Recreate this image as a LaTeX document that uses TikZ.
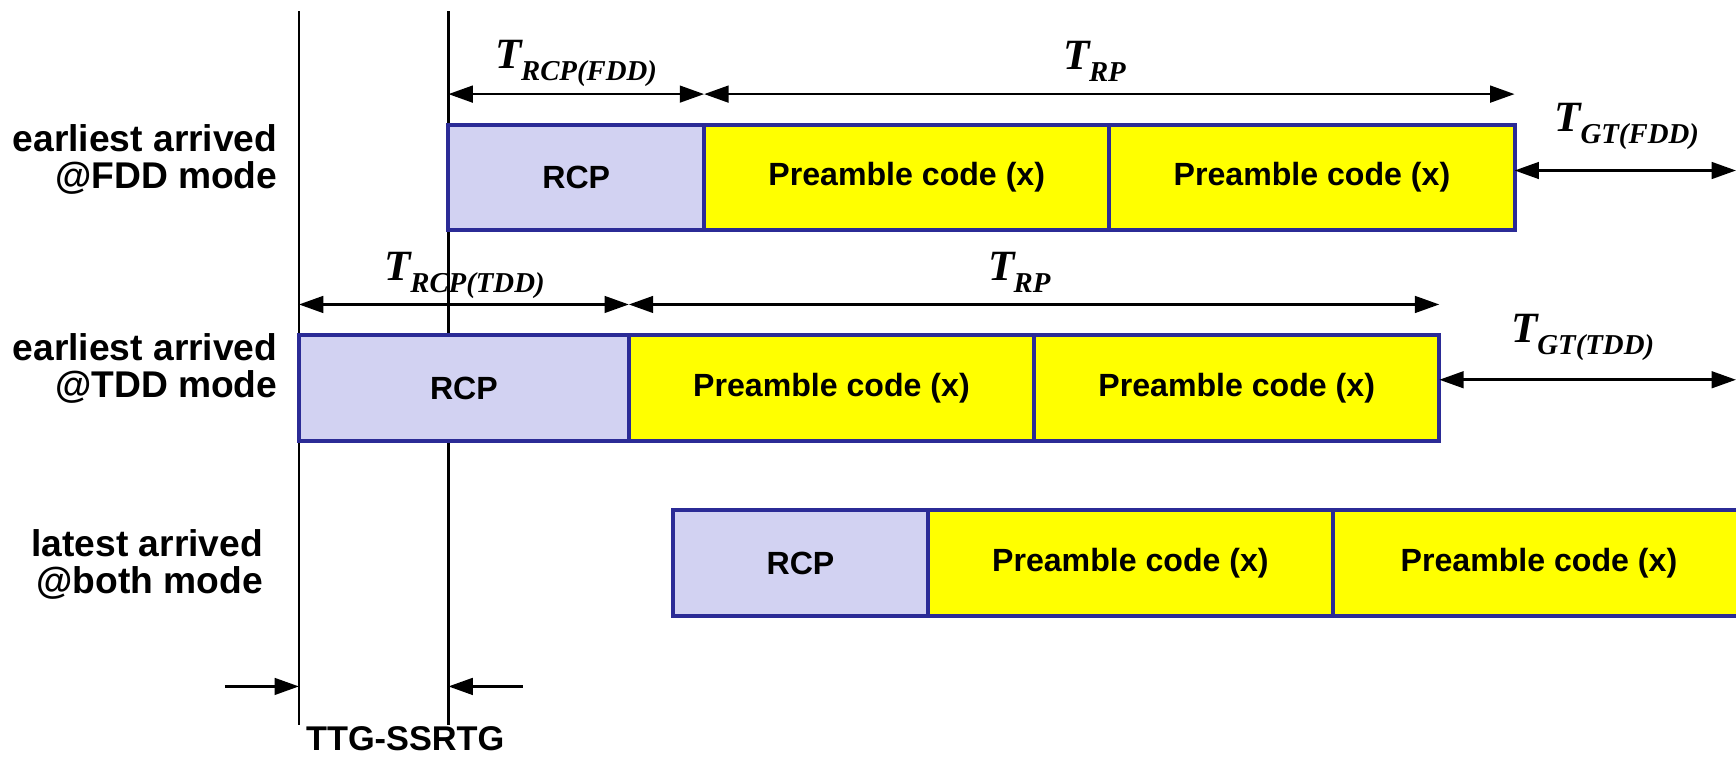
\documentclass[tikz,border=0pt]{standalone}
\usepackage{fontspec}
\usetikzlibrary{arrows.meta}
\newfontfamily\labfont{Liberation Sans}
\newfontfamily\symfont{Liberation Serif}
\definecolor{rcpfill}{RGB}{210,210,242}
\definecolor{boxedge}{RGB}{43,43,150}
\definecolor{pyellow}{RGB}{255,255,0}
\newcommand{\Tsym}[1]{{\symfont\bfseries\itshape\fontsize{19.5}{19.5}\selectfont T}\kern-0.3pt\raisebox{-5.5pt}{\symfont\bfseries\itshape\fontsize{13}{13}\selectfont #1}}
\tikzset{
  seg/.style={draw=boxedge, line width=1.8pt, minimum height=47.5pt, inner sep=0pt, outer sep=0pt,
    anchor=north west, font=\labfont\bfseries\fontsize{14.5}{14.5}\selectfont},
  rcpbox/.style={seg, fill=rcpfill},
  prebox/.style={seg, fill=pyellow, minimum width=183pt},
  dim/.style={line width=1.2pt, {Triangle[length=11pt,width=7.5pt]}-{Triangle[length=11pt,width=7.5pt]}},
  onearrow/.style={line width=1.2pt, -{Triangle[length=11pt,width=7.5pt]}},
  guide/.style={line width=1pt},
  sidelab/.style={anchor=east, align=right, inner sep=0pt,
    font=\labfont\bfseries\fontsize{16.8}{16.5}\selectfont},
  symlab/.style={inner sep=0pt, anchor=base west},
}
\begin{document}
\begin{tikzpicture}[x=0.5pt, y=-0.5pt]
\useasboundingbox (0,0) rectangle (1568,685);
\clip (0,0) rectangle (1568,685);

% guide lines
\coordinate (L1t) at (270,10);
\coordinate (L1b) at (270,655);
\coordinate (L2t) at (405,10);
\coordinate (L2b) at (405,655);
\draw[guide] (L1t) -- (L1b);
\draw[guide] (L2t) -- (L2b);

% row 1 (FDD)
\node[rcpbox, minimum width=115.5pt] (r1a) at (405,113) {RCP};
\node[prebox] (r1b) at (r1a.north east) {Preamble code (x)};
\node[prebox] (r1c) at (r1b.north east) {Preamble code (x)};

% row 2 (TDD)
\node[rcpbox, minimum width=149pt] (r2a) at (270,303) {RCP};
\node[prebox] (r2b) at (r2a.north east) {Preamble code (x)};
\node[prebox] (r2c) at (r2b.north east) {Preamble code (x)};

% row 3 (both)
\node[rcpbox, minimum width=115pt] (r3a) at (608,461) {RCP};
\node[prebox] (r3b) at (r3a.north east) {Preamble code (x)};
\node[prebox, minimum width=186pt] (r3c) at (r3b.north east) {Preamble code (x)};

% side labels
\node[sidelab] (s1) at (251,144) {earliest arrived\\@FDD mode};
\node[sidelab] (s2) at (251,333) {earliest arrived\\@TDD mode};
\node[sidelab] (s3) at (238,510) {latest arrived\\@both mode};

% dimension arrows
\coordinate (d1) at (0,85);
\coordinate (d2) at (0,275);
\coordinate (edge) at (1568,0);
\coordinate (g1) at (0,154);
\coordinate (g2) at (0,343);
\draw[dim] (r1a.north west |- d1) -- (r1a.north east |- d1);
\draw[dim] (r1b.north west |- d1) -- (r1c.north east |- d1);
\draw[dim] (r2a.north west |- d2) -- (r2a.north east |- d2);
\draw[dim] (r2b.north west |- d2) -- (r2c.north east |- d2);
\draw[dim] (r1c.east |- g1) -- (edge |- g1);
\draw[dim] (r2c.east |- g2) -- (edge |- g2);

% symbol labels
\node[symlab] (t1) at (447,62) {\Tsym{RCP(FDD)}};
\node[symlab] (t2) at (960,63) {\Tsym{RP}};
\node[symlab] (t3) at (1404,119) {\Tsym{GT(FDD)}};
\node[symlab] (t4) at (347,253) {\Tsym{RCP(TDD)}};
\node[symlab] (t5) at (892,253) {\Tsym{RP}};
\node[symlab] (t6) at (1365,309) {\Tsym{GT(TDD)}};

% TTG-SSRTG
\coordinate (a1) at (203,620);
\coordinate (a2) at (472,620);
\draw[onearrow] (a1) -- (a1 -| L1b);
\draw[onearrow] (a2) -- (a2 -| L2b);
\node[anchor=north, inner sep=0pt, font=\labfont\bfseries\fontsize{15.5}{15.5}\selectfont] (ttg) at (366,656) {TTG-SSRTG};
\end{tikzpicture}
\end{document}
